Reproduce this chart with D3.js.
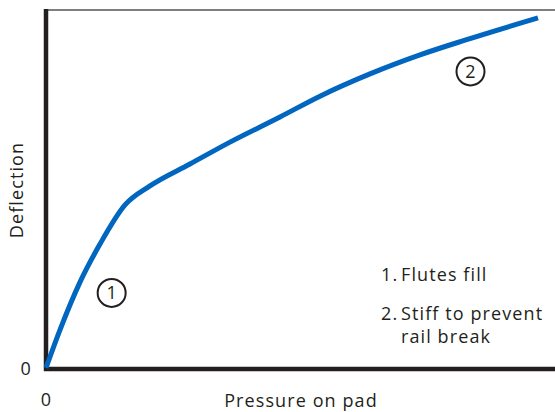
<!DOCTYPE html>
<html><head><meta charset="utf-8">
<script src="https://cdn.jsdelivr.net/npm/d3@7/dist/d3.min.js"></script>
<style>body{margin:0;background:#fff}svg{display:block}</style>
</head><body>
<script>
const pressure   = [0, 2.75, 6.68, 10.61, 15.52, 20.43, 28.29, 36.15, 45.97, 53.83, 63.65, 73.48, 82.32, 96.66];
const deflection = [0.3, 10.9, 24.2, 34.8, 45.7, 51.0, 57.1, 63.2, 70.2, 76.0, 82.2, 87.5, 91.6, 97.8];
const xTickLabels = ["0"];
const yTickLabels = ["0"];
const markers = [{label:"1", x:12.9, y:21.2}, {label:"2", x:83.4, y:82.9}];
const notes = [["1.", "Flutes fill"], ["2.", "Stiff to prevent", "rail break"]];
const xTitle = "Pressure on pad", yTitle = "Deflection";

const W = 555, H = 412;
const font = "'Open Sans', sans-serif";
const fs = 18, ls = 1.1;
const txt = "#231f20";
const svg = d3.select("body").append("svg").attr("width", W).attr("height", H);
const x = d3.scaleLinear().domain([0, 100]).range([46, 555]);
const y = d3.scaleLinear().domain([0, 100]).range([369, 10]);
const style = s => s.attr("font-family", font).attr("font-size", fs).attr("letter-spacing", ls).attr("fill", txt);

// top thin line
svg.append("line").attr("x1", x(0)-2).attr("x2", x(100)).attr("y1", y(100)).attr("y2", y(100))
  .attr("stroke", "#555").attr("stroke-width", 1.5);

// axes
const ya = svg.append("g").attr("transform", `translate(${x(0)},0)`)
  .call(d3.axisLeft(y).tickValues([0]).tickSize(0).tickPadding(14).tickFormat((d,i)=>yTickLabels[i]));
const xa = svg.append("g").attr("transform", `translate(0,${y(0)})`)
  .call(d3.axisBottom(x).tickValues([0]).tickSize(0).tickPadding(24).tickFormat((d,i)=>xTickLabels[i]));
[ya, xa].forEach(g => {
  g.select(".domain").remove();
  style(g.selectAll("text"));
});
svg.append("line").attr("x1", x(0)).attr("x2", x(0)).attr("y1", y(100)-1).attr("y2", y(0)+2)
  .attr("stroke", "#231f20").attr("stroke-width", 4.5);
svg.append("line").attr("x1", x(0)-2).attr("x2", x(100)).attr("y1", y(0)).attr("y2", y(0))
  .attr("stroke", "#231f20").attr("stroke-width", 4.5);

// curve
const pts = pressure.map((p,i)=>[p, deflection[i]]);
svg.append("path").datum(pts)
  .attr("d", d3.line().x(d=>x(d[0])).y(d=>y(d[1])).curve(d3.curveMonotoneX))
  .attr("fill", "none").attr("stroke", "#0066bf").attr("stroke-width", 5);

// markers
markers.forEach(m => {
  svg.append("circle").attr("cx", x(m.x)).attr("cy", y(m.y)).attr("r", 14)
    .attr("fill", "none").attr("stroke", txt).attr("stroke-width", 2);
  style(svg.append("text")).attr("x", x(m.x)).attr("y", y(m.y)).attr("dy", "0.35em")
    .attr("letter-spacing", 0).attr("text-anchor", "middle").text(m.label);
});

// titles
style(svg.append("text")).attr("x", 301).attr("y", 407).attr("text-anchor", "middle").text(xTitle);
style(svg.append("text")).attr("transform", "translate(23,190) rotate(-90)").attr("text-anchor", "middle").text(yTitle);

// notes
const noteY = [281, 320];
notes.forEach((n, i) => {
  style(svg.append("text")).attr("x", 381).attr("y", noteY[i]).text(n[0]);
  n.slice(1).forEach((line, j) => {
    style(svg.append("text")).attr("x", 401).attr("y", noteY[i] + j*23).text(line);
  });
});
</script>
</body></html>
